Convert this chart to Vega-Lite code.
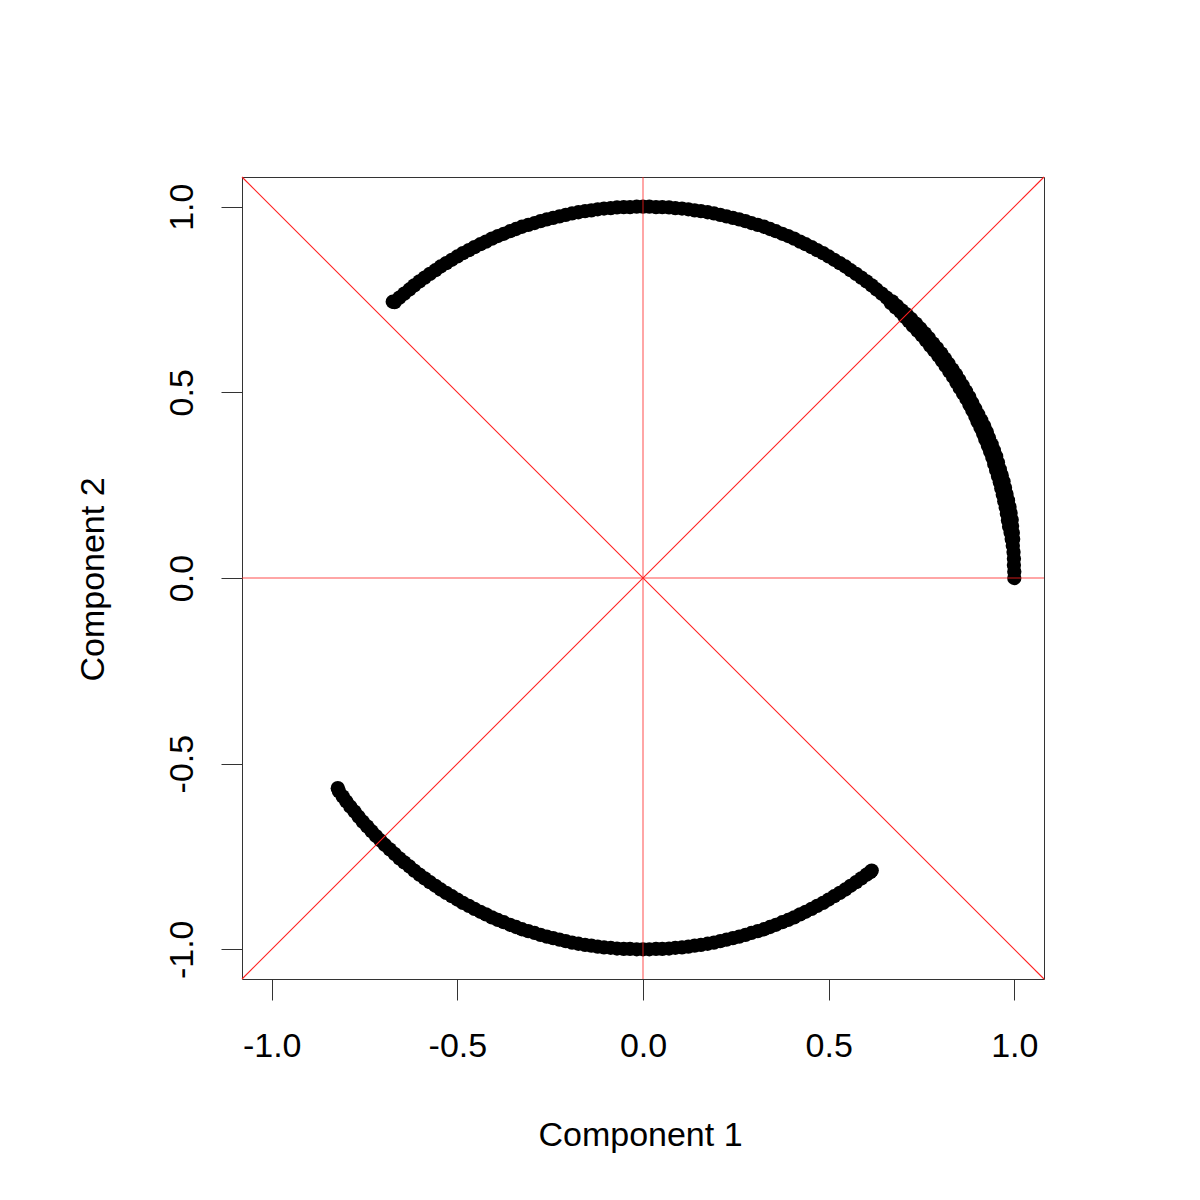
{
  "$schema": "https://vega.github.io/schema/vega-lite/v6.json",
  "autosize": {"type": "none"},
  "width": 802,
  "height": 802,
  "padding": {"left": 242, "top": 177, "right": 156, "bottom": 221},
  "background": "white",
  "config": {
    "view": {"stroke": "#333333", "strokeWidth": 1},
    "font": "Liberation Sans"
  },
  "datasets": {
    "pts": [
      {"x":1.000,"y":0.000},{"x":1.000,"y":0.017},{"x":0.999,"y":0.035},{"x":0.999,"y":0.052},{"x":0.998,"y":0.070},{"x":0.996,"y":0.087},{"x":0.995,"y":0.105},{"x":0.993,"y":0.122},{"x":0.990,"y":0.139},{"x":0.988,"y":0.156},
      {"x":0.985,"y":0.174},{"x":0.982,"y":0.191},{"x":0.978,"y":0.208},{"x":0.974,"y":0.225},{"x":0.970,"y":0.242},{"x":0.966,"y":0.259},{"x":0.961,"y":0.276},{"x":0.956,"y":0.292},{"x":0.951,"y":0.309},{"x":0.946,"y":0.326},
      {"x":0.940,"y":0.342},{"x":0.934,"y":0.358},{"x":0.927,"y":0.375},{"x":0.921,"y":0.391},{"x":0.914,"y":0.407},{"x":0.906,"y":0.423},{"x":0.899,"y":0.438},{"x":0.891,"y":0.454},{"x":0.883,"y":0.469},{"x":0.875,"y":0.485},
      {"x":0.866,"y":0.500},{"x":0.857,"y":0.515},{"x":0.848,"y":0.530},{"x":0.839,"y":0.545},{"x":0.829,"y":0.559},{"x":0.819,"y":0.574},{"x":0.809,"y":0.588},{"x":0.799,"y":0.602},{"x":0.788,"y":0.616},{"x":0.777,"y":0.629},
      {"x":0.766,"y":0.643},{"x":0.755,"y":0.656},{"x":0.743,"y":0.669},{"x":0.731,"y":0.682},{"x":0.719,"y":0.695},{"x":0.707,"y":0.707},{"x":0.695,"y":0.719},{"x":0.682,"y":0.731},{"x":0.669,"y":0.743},{"x":0.656,"y":0.755},
      {"x":0.643,"y":0.766},{"x":0.629,"y":0.777},{"x":0.616,"y":0.788},{"x":0.602,"y":0.799},{"x":0.588,"y":0.809},{"x":0.574,"y":0.819},{"x":0.559,"y":0.829},{"x":0.545,"y":0.839},{"x":0.530,"y":0.848},{"x":0.515,"y":0.857},
      {"x":0.500,"y":0.866},{"x":0.485,"y":0.875},{"x":0.469,"y":0.883},{"x":0.454,"y":0.891},{"x":0.438,"y":0.899},{"x":0.423,"y":0.906},{"x":0.407,"y":0.914},{"x":0.391,"y":0.921},{"x":0.375,"y":0.927},{"x":0.358,"y":0.934},
      {"x":0.342,"y":0.940},{"x":0.326,"y":0.946},{"x":0.309,"y":0.951},{"x":0.292,"y":0.956},{"x":0.276,"y":0.961},{"x":0.259,"y":0.966},{"x":0.242,"y":0.970},{"x":0.225,"y":0.974},{"x":0.208,"y":0.978},{"x":0.191,"y":0.982},
      {"x":0.174,"y":0.985},{"x":0.156,"y":0.988},{"x":0.139,"y":0.990},{"x":0.122,"y":0.993},{"x":0.105,"y":0.995},{"x":0.087,"y":0.996},{"x":0.070,"y":0.998},{"x":0.052,"y":0.999},{"x":0.035,"y":0.999},{"x":0.017,"y":1.000},
      {"x":0.000,"y":1.000},{"x":-0.017,"y":1.000},{"x":-0.035,"y":0.999},{"x":-0.052,"y":0.999},{"x":-0.070,"y":0.998},{"x":-0.087,"y":0.996},{"x":-0.105,"y":0.995},{"x":-0.122,"y":0.993},{"x":-0.139,"y":0.990},{"x":-0.156,"y":0.988},
      {"x":-0.174,"y":0.985},{"x":-0.191,"y":0.982},{"x":-0.208,"y":0.978},{"x":-0.225,"y":0.974},{"x":-0.242,"y":0.970},{"x":-0.259,"y":0.966},{"x":-0.276,"y":0.961},{"x":-0.292,"y":0.956},{"x":-0.309,"y":0.951},{"x":-0.326,"y":0.946},
      {"x":-0.342,"y":0.940},{"x":-0.358,"y":0.934},{"x":-0.375,"y":0.927},{"x":-0.391,"y":0.921},{"x":-0.407,"y":0.914},{"x":-0.423,"y":0.906},{"x":-0.438,"y":0.899},{"x":-0.454,"y":0.891},{"x":-0.469,"y":0.883},{"x":-0.485,"y":0.875},
      {"x":-0.500,"y":0.866},{"x":-0.515,"y":0.857},{"x":-0.530,"y":0.848},{"x":-0.545,"y":0.839},{"x":-0.559,"y":0.829},{"x":-0.574,"y":0.819},{"x":-0.588,"y":0.809},{"x":-0.602,"y":0.799},{"x":-0.616,"y":0.788},{"x":-0.629,"y":0.777},
      {"x":-0.643,"y":0.766},{"x":-0.656,"y":0.755},{"x":-0.669,"y":0.743},{"x":-0.674,"y":0.744},
      {"x":0.997,"y":0.105},{"x":0.993,"y":0.105},{"x":0.996,"y":0.122},{"x":0.990,"y":0.122},
      {"x":0.994,"y":0.140},{"x":0.986,"y":0.138},{"x":0.993,"y":0.157},{"x":0.983,"y":0.155},{"x":0.990,"y":0.175},{"x":0.980,"y":0.173},{"x":0.987,"y":0.192},{"x":0.977,"y":0.190},
      {"x":0.983,"y":0.209},{"x":0.973,"y":0.207},{"x":0.979,"y":0.226},{"x":0.969,"y":0.224},{"x":0.975,"y":0.243},{"x":0.965,"y":0.241},{"x":0.971,"y":0.260},{"x":0.961,"y":0.258},
      {"x":0.966,"y":0.277},{"x":0.956,"y":0.275},{"x":0.961,"y":0.293},{"x":0.951,"y":0.291},{"x":0.956,"y":0.311},{"x":0.946,"y":0.307},{"x":0.951,"y":0.328},{"x":0.941,"y":0.324},
      {"x":0.945,"y":0.344},{"x":0.935,"y":0.340},{"x":0.939,"y":0.360},{"x":0.929,"y":0.356},{"x":0.932,"y":0.377},{"x":0.922,"y":0.373},{"x":0.926,"y":0.393},{"x":0.916,"y":0.389},
      {"x":0.919,"y":0.409},{"x":0.909,"y":0.405},{"x":0.911,"y":0.425},{"x":0.901,"y":0.421},{"x":0.903,"y":0.440},{"x":0.895,"y":0.436},{"x":0.895,"y":0.456},{"x":0.887,"y":0.452},
      {"x":0.887,"y":0.471},{"x":0.879,"y":0.467},{"x":0.879,"y":0.487},{"x":0.871,"y":0.483},{"x":0.870,"y":0.503},{"x":0.862,"y":0.497},{"x":0.861,"y":0.518},{"x":0.853,"y":0.512},
      {"x":0.852,"y":0.533},{"x":0.844,"y":0.527},{"x":0.843,"y":0.548},{"x":0.835,"y":0.542},{"x":0.833,"y":0.562},{"x":0.825,"y":0.556},{"x":0.823,"y":0.577},{"x":0.815,"y":0.571},
      {"x":0.813,"y":0.591},{"x":0.805,"y":0.585},{"x":0.803,"y":0.605},{"x":0.795,"y":0.599},{"x":0.792,"y":0.619},{"x":0.784,"y":0.613},{"x":0.781,"y":0.632},{"x":0.773,"y":0.626},
      {"x":0.770,"y":0.646},{"x":0.762,"y":0.640},{"x":0.759,"y":0.659},{"x":0.751,"y":0.653},{"x":0.747,"y":0.672},{"x":0.739,"y":0.666},{"x":0.735,"y":0.685},{"x":0.727,"y":0.679},
      {"x":0.722,"y":0.698},{"x":0.716,"y":0.692},{"x":0.710,"y":0.710},{"x":0.704,"y":0.704},{"x":0.697,"y":0.721},{"x":0.693,"y":0.717},{"x":0.684,"y":0.733},{"x":0.680,"y":0.729},
      {"x":0.671,"y":0.745},{"x":0.667,"y":0.741},
      {"x":-0.822,"y":-0.566},{"x":-0.819,"y":-0.574},{"x":-0.809,"y":-0.588},{"x":-0.799,"y":-0.602},{"x":-0.788,"y":-0.616},{"x":-0.777,"y":-0.629},{"x":-0.766,"y":-0.643},{"x":-0.755,"y":-0.656},{"x":-0.743,"y":-0.669},{"x":-0.731,"y":-0.682},
      {"x":-0.719,"y":-0.695},{"x":-0.707,"y":-0.707},{"x":-0.695,"y":-0.719},{"x":-0.682,"y":-0.731},{"x":-0.669,"y":-0.743},{"x":-0.656,"y":-0.755},{"x":-0.643,"y":-0.766},{"x":-0.629,"y":-0.777},{"x":-0.616,"y":-0.788},{"x":-0.602,"y":-0.799},
      {"x":-0.588,"y":-0.809},{"x":-0.574,"y":-0.819},{"x":-0.559,"y":-0.829},{"x":-0.545,"y":-0.839},{"x":-0.530,"y":-0.848},{"x":-0.515,"y":-0.857},{"x":-0.500,"y":-0.866},{"x":-0.485,"y":-0.875},{"x":-0.469,"y":-0.883},{"x":-0.454,"y":-0.891},
      {"x":-0.438,"y":-0.899},{"x":-0.423,"y":-0.906},{"x":-0.407,"y":-0.914},{"x":-0.391,"y":-0.921},{"x":-0.375,"y":-0.927},{"x":-0.358,"y":-0.934},{"x":-0.342,"y":-0.940},{"x":-0.326,"y":-0.946},{"x":-0.309,"y":-0.951},{"x":-0.292,"y":-0.956},
      {"x":-0.276,"y":-0.961},{"x":-0.259,"y":-0.966},{"x":-0.242,"y":-0.970},{"x":-0.225,"y":-0.974},{"x":-0.208,"y":-0.978},{"x":-0.191,"y":-0.982},{"x":-0.174,"y":-0.985},{"x":-0.156,"y":-0.988},{"x":-0.139,"y":-0.990},{"x":-0.122,"y":-0.993},
      {"x":-0.105,"y":-0.995},{"x":-0.087,"y":-0.996},{"x":-0.070,"y":-0.998},{"x":-0.052,"y":-0.999},{"x":-0.035,"y":-0.999},{"x":-0.017,"y":-1.000},{"x":0.000,"y":-1.000},{"x":0.017,"y":-1.000},{"x":0.035,"y":-0.999},{"x":0.052,"y":-0.999},
      {"x":0.070,"y":-0.998},{"x":0.087,"y":-0.996},{"x":0.105,"y":-0.995},{"x":0.122,"y":-0.993},{"x":0.139,"y":-0.990},{"x":0.156,"y":-0.988},{"x":0.174,"y":-0.985},{"x":0.191,"y":-0.982},{"x":0.208,"y":-0.978},{"x":0.225,"y":-0.974},
      {"x":0.242,"y":-0.970},{"x":0.259,"y":-0.966},{"x":0.276,"y":-0.961},{"x":0.292,"y":-0.956},{"x":0.309,"y":-0.951},{"x":0.326,"y":-0.946},{"x":0.342,"y":-0.940},{"x":0.358,"y":-0.934},{"x":0.375,"y":-0.927},{"x":0.391,"y":-0.921},
      {"x":0.407,"y":-0.914},{"x":0.423,"y":-0.906},{"x":0.438,"y":-0.899},{"x":0.454,"y":-0.891},{"x":0.469,"y":-0.883},{"x":0.485,"y":-0.875},{"x":0.500,"y":-0.866},{"x":0.515,"y":-0.857},{"x":0.530,"y":-0.848},{"x":0.545,"y":-0.839},
      {"x":0.559,"y":-0.829},{"x":0.574,"y":-0.819},{"x":0.588,"y":-0.809},{"x":0.602,"y":-0.799},{"x":0.612,"y":-0.792},{"x":0.616,"y":-0.788}
    ],
    "diag": [
      {"g":"a","x":-1.08,"y":-1.08},{"g":"a","x":1.08,"y":1.08},
      {"g":"b","x":-1.08,"y":1.08},{"g":"b","x":1.08,"y":-1.08}
    ],
    "zero": [{"v":0}]
  },
  "layer": [
    {
      "data": {"name": "pts"},
      "mark": {"type": "circle", "color": "black", "opacity": 1, "size": 205},
      "encoding": {
        "x": {
          "field": "x", "type": "quantitative",
          "scale": {"domain": [-1.08, 1.08], "nice": false, "zero": false},
          "axis": {
            "values": [-1, -0.5, 0, 0.5, 1], "grid": false, "domain": false,
            "labelExpr": "datum.value < 0 ? '-' + format(-datum.value, '.1f') : format(datum.value, '.1f')",
            "tickSize": 21, "tickColor": "#333333", "tickWidth": 1,
            "labelFontSize": 34, "labelColor": "black", "labelFont": "Liberation Sans",
            "labelBaseline": "alphabetic", "labelPadding": 56, "labelFlush": false, "labelOverlap": false,
            "title": "Component 1", "titleFontSize": 34, "titleFontWeight": "normal", "titleColor": "black",
            "titleFont": "Liberation Sans", "titleBaseline": "alphabetic", "titleAlign": "center",
            "titleX": 398, "titleY": 166
          }
        },
        "y": {
          "field": "y", "type": "quantitative",
          "scale": {"domain": [-1.08, 1.08], "nice": false, "zero": false},
          "axis": {
            "values": [-1, -0.5, 0, 0.5, 1], "grid": false, "domain": false,
            "labelExpr": "datum.value < 0 ? '-' + format(-datum.value, '.1f') : format(datum.value, '.1f')",
            "tickSize": 21, "tickColor": "#333333", "tickWidth": 1,
            "labelFontSize": 34, "labelColor": "black", "labelFont": "Liberation Sans",
            "labelAngle": -90, "labelAlign": "center", "labelBaseline": "alphabetic", "labelPadding": 29,
            "labelFlush": false, "labelOverlap": false,
            "title": "Component 2", "titleFontSize": 34, "titleFontWeight": "normal", "titleColor": "black",
            "titleFont": "Liberation Sans", "titleBaseline": "alphabetic", "titleAlign": "center", "titleAngle": -90,
            "titleX": -139, "titleY": 402
          }
        }
      }
    },
    {
      "data": {"name": "diag"},
      "mark": {"type": "line", "color": "#ff2020", "strokeWidth": 1.1, "opacity": 1},
      "encoding": {
        "x": {"field": "x", "type": "quantitative"},
        "y": {"field": "y", "type": "quantitative"},
        "detail": {"field": "g"}
      }
    },
    {
      "data": {"name": "zero"},
      "mark": {"type": "rule", "color": "#ff2020", "strokeWidth": 1, "opacity": 0.8},
      "encoding": {
        "x": {"field": "v", "type": "quantitative"}
      }
    },
    {
      "data": {"name": "zero"},
      "mark": {"type": "rule", "color": "#ff2020", "strokeWidth": 1, "opacity": 0.8},
      "encoding": {
        "y": {"field": "v", "type": "quantitative"}
      }
    }
  ]
}
